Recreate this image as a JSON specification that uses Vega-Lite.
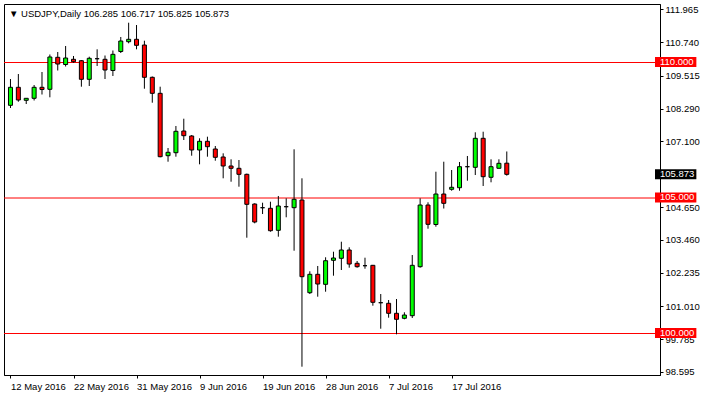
{
  "$schema": "https://vega.github.io/schema/vega-lite/v6.json",
  "width": 656,
  "height": 371,
  "autosize": "none",
  "padding": {"left": 4, "top": 4, "right": 44, "bottom": 23},
  "background": "white",
  "config": {"view": {"stroke": "black", "strokeWidth": 1}, "font": "Liberation Sans", "axis": {"labelOverlap": false, "labelBound": false, "labelFlush": false, "labelSeparation": 0}},
  "title": {"text": "▼  USDJPY,Daily   106.285 106.717 105.825 105.873", "anchor": "start", "frame": "group", "orient": "top", "offset": -14, "dx": 5, "font": "Liberation Sans", "fontSize": 9.5, "fontWeight": "normal", "color": "black"},
  "datasets": {
    "candles": [
      {"i":0,"date":"2016-05-12","open":108.42,"high":109.39,"low":108.32,"close":109.085},
      {"i":1,"date":"2016-05-13","open":109.085,"high":109.575,"low":108.553,"close":108.616},
      {"i":2,"date":"2016-05-15","open":108.605,"high":108.69,"low":108.468,"close":108.679},
      {"i":3,"date":"2016-05-16","open":108.679,"high":109.169,"low":108.598,"close":109.085},
      {"i":4,"date":"2016-05-17","open":109.085,"high":109.649,"low":108.819,"close":109.003},
      {"i":5,"date":"2016-05-18","open":109.011,"high":110.295,"low":108.716,"close":110.203},
      {"i":6,"date":"2016-05-19","open":110.192,"high":110.387,"low":109.705,"close":109.944},
      {"i":7,"date":"2016-05-20","open":109.926,"high":110.609,"low":109.852,"close":110.166},
      {"i":8,"date":"2016-05-22","open":110.118,"high":110.24,"low":109.992,"close":110.029},
      {"i":9,"date":"2016-05-23","open":110.066,"high":110.092,"low":109.107,"close":109.38},
      {"i":10,"date":"2016-05-24","open":109.38,"high":110.214,"low":109.133,"close":110.155},
      {"i":11,"date":"2016-05-25","open":110.14,"high":110.487,"low":109.871,"close":110.14},
      {"i":12,"date":"2016-05-26","open":110.118,"high":110.258,"low":109.391,"close":109.723},
      {"i":13,"date":"2016-05-27","open":109.705,"high":110.443,"low":109.502,"close":110.302},
      {"i":14,"date":"2016-05-29","open":110.406,"high":110.941,"low":110.35,"close":110.793},
      {"i":15,"date":"2016-05-30","open":110.767,"high":111.468,"low":110.708,"close":110.856},
      {"i":16,"date":"2016-05-31","open":110.856,"high":111.383,"low":110.487,"close":110.634},
      {"i":17,"date":"2016-06-01","open":110.645,"high":110.804,"low":109.033,"close":109.454},
      {"i":18,"date":"2016-06-02","open":109.454,"high":109.483,"low":108.516,"close":108.863},
      {"i":19,"date":"2016-06-03","open":108.863,"high":109.107,"low":106.502,"close":106.524},
      {"i":20,"date":"2016-06-05","open":106.561,"high":106.845,"low":106.339,"close":106.686},
      {"i":21,"date":"2016-06-06","open":106.671,"high":107.657,"low":106.524,"close":107.461},
      {"i":22,"date":"2016-06-07","open":107.472,"high":107.926,"low":107.14,"close":107.299},
      {"i":23,"date":"2016-06-08","open":107.288,"high":107.324,"low":106.561,"close":106.771},
      {"i":24,"date":"2016-06-09","open":106.771,"high":107.203,"low":106.243,"close":107.092},
      {"i":25,"date":"2016-06-10","open":107.092,"high":107.262,"low":106.524,"close":106.893},
      {"i":26,"date":"2016-06-12","open":106.808,"high":106.919,"low":106.376,"close":106.502},
      {"i":27,"date":"2016-06-13","open":106.513,"high":106.649,"low":105.727,"close":106.181},
      {"i":28,"date":"2016-06-14","open":106.181,"high":106.428,"low":105.601,"close":106.096},
      {"i":29,"date":"2016-06-15","open":106.096,"high":106.402,"low":105.417,"close":105.874},
      {"i":30,"date":"2016-06-16","open":105.874,"high":105.9,"low":103.535,"close":104.767},
      {"i":31,"date":"2016-06-17","open":104.778,"high":104.804,"low":104.066,"close":104.114},
      {"i":32,"date":"2016-06-19","open":104.642,"high":104.826,"low":104.409,"close":104.642},
      {"i":33,"date":"2016-06-20","open":104.62,"high":104.863,"low":103.756,"close":103.793},
      {"i":34,"date":"2016-06-21","open":103.808,"high":105.074,"low":103.572,"close":104.705},
      {"i":35,"date":"2016-06-22","open":104.679,"high":104.989,"low":104.288,"close":104.679},
      {"i":36,"date":"2016-06-23","open":104.642,"high":106.797,"low":103.055,"close":104.952},
      {"i":37,"date":"2016-06-24","open":104.926,"high":105.727,"low":98.775,"close":102.096},
      {"i":38,"date":"2016-06-26","open":101.505,"high":102.295,"low":101.457,"close":102.184},
      {"i":39,"date":"2016-06-27","open":102.184,"high":102.491,"low":101.358,"close":101.826},
      {"i":40,"date":"2016-06-28","open":101.815,"high":102.812,"low":101.542,"close":102.686},
      {"i":41,"date":"2016-06-29","open":102.701,"high":103.018,"low":102.133,"close":102.786},
      {"i":42,"date":"2016-06-30","open":102.775,"high":103.387,"low":102.343,"close":103.081},
      {"i":43,"date":"2016-07-01","open":103.081,"high":103.181,"low":102.428,"close":102.564},
      {"i":44,"date":"2016-07-03","open":102.59,"high":102.675,"low":102.428,"close":102.465},
      {"i":45,"date":"2016-07-04","open":102.502,"high":102.797,"low":102.391,"close":102.502},
      {"i":46,"date":"2016-07-05","open":102.516,"high":102.53,"low":101.026,"close":101.151},
      {"i":47,"date":"2016-07-06","open":101.136,"high":101.457,"low":100.177,"close":101.136},
      {"i":48,"date":"2016-07-07","open":101.114,"high":101.236,"low":100.583,"close":100.745},
      {"i":49,"date":"2016-07-08","open":100.745,"high":101.273,"low":99.97,"close":100.524},
      {"i":50,"date":"2016-07-10","open":100.561,"high":100.782,"low":100.524,"close":100.682},
      {"i":51,"date":"2016-07-11","open":100.657,"high":102.896,"low":100.572,"close":102.516},
      {"i":52,"date":"2016-07-12","open":102.465,"high":104.989,"low":102.428,"close":104.741},
      {"i":53,"date":"2016-07-13","open":104.741,"high":104.841,"low":103.867,"close":104.029},
      {"i":54,"date":"2016-07-14","open":104.022,"high":105.97,"low":103.941,"close":105.147},
      {"i":55,"date":"2016-07-15","open":105.147,"high":106.339,"low":104.612,"close":104.804},
      {"i":56,"date":"2016-07-17","open":105.321,"high":106.033,"low":105.269,"close":105.395},
      {"i":57,"date":"2016-07-18","open":105.38,"high":106.328,"low":105.269,"close":106.155},
      {"i":58,"date":"2016-07-19","open":106.155,"high":106.55,"low":105.638,"close":106.155},
      {"i":59,"date":"2016-07-20","open":106.133,"high":107.424,"low":105.848,"close":107.203},
      {"i":60,"date":"2016-07-21","open":107.203,"high":107.446,"low":105.443,"close":105.786},
      {"i":61,"date":"2016-07-22","open":105.764,"high":106.428,"low":105.579,"close":106.155},
      {"i":62,"date":"2016-07-24","open":106.096,"high":106.428,"low":106.096,"close":106.28},
      {"i":63,"date":"2016-07-25","open":106.285,"high":106.717,"low":105.825,"close":105.873}
    ],
    "levels": [
      {"level": 110, "label": "110.000"},
      {"level": 105, "label": "105.000"},
      {"level": 100, "label": "100.000"}
    ],
    "last": [
      {"price": 105.873, "label": "105.873"}
    ]
  },
  "layer": [
    {
      "data": {"name": "levels"},
      "mark": {"type": "rule", "color": "#ff0000", "strokeWidth": 1},
      "encoding": {
        "y": {"field": "level", "type": "quantitative",
          "scale": {"domain": [98.4687, 112.1587], "nice": false, "zero": false},
          "axis": {"orient": "right", "title": null, "values": [111.965, 110.74, 109.515, 108.29, 107.1, 104.65, 103.46, 102.235, 101.01, 99.785, 98.595], "tickCount": 30, "format": ".3f", "grid": false, "tickSize": 3, "tickColor": "black", "domainColor": "black", "labelPadding": 2, "labelFont": "Liberation Sans", "labelFontSize": 9.5, "labelColor": "black", "labelOverlap": false, "labelBound": false, "labelFlush": false}}
      }
    },
    {
      "data": {"name": "candles"},
      "mark": {"type": "rule", "color": "black", "strokeWidth": 1},
      "encoding": {
        "x": {"field": "i", "type": "quantitative",
          "scale": {"domain": [-0.1875, 81.8125], "nice": false, "zero": false},
          "axis": {"title": null, "values": [0, 8, 16, 24, 32, 40, 48, 56], "tickCount": 30, "labelExpr": "['12 May 2016','22 May 2016','31 May 2016','9 Jun 2016','19 Jun 2016','28 Jun 2016','7 Jul 2016','17 Jul 2016'][round(datum.value/8)]", "grid": false, "tickSize": 3, "tickColor": "black", "domainColor": "black", "labelAlign": "left", "labelPadding": 3, "labelFont": "Liberation Sans", "labelFontSize": 9.5, "labelColor": "black", "labelOverlap": false, "labelBound": false, "labelFlush": false}},
        "y": {"field": "low", "type": "quantitative", "title": null},
        "y2": {"field": "high"}
      }
    },
    {
      "data": {"name": "candles"},
      "mark": {"type": "bar", "orient": "vertical", "size": 4, "stroke": "black", "strokeWidth": 1},
      "encoding": {
        "x": {"field": "i", "type": "quantitative", "title": null},
        "y": {"field": "open", "type": "quantitative", "title": null},
        "y2": {"field": "close"},
        "fill": {"condition": {"test": "datum.close > datum.open", "value": "#00ff00"}, "value": "#ff0000"}
      }
    },
    {
      "data": {"name": "levels"},
      "mark": {"type": "rect", "color": "#ff0000", "yOffset": -5.5, "y2Offset": 4.5},
      "encoding": {
        "x": {"datum": 81.8125, "type": "quantitative", "title": null},
        "x2": {"datum": 87.0625},
        "y": {"field": "level", "type": "quantitative", "title": null},
        "y2": {"field": "level"}
      }
    },
    {
      "data": {"name": "levels"},
      "mark": {"type": "text", "color": "white", "align": "left", "baseline": "middle", "dx": 5, "dy": -1, "font": "Liberation Sans", "fontSize": 9.5},
      "encoding": {
        "x": {"datum": 81.8125, "type": "quantitative", "title": null},
        "y": {"field": "level", "type": "quantitative", "title": null},
        "text": {"field": "label"}
      }
    },
    {
      "data": {"name": "last"},
      "mark": {"type": "rect", "color": "black", "yOffset": -5, "y2Offset": 5},
      "encoding": {
        "x": {"datum": 81.8125, "type": "quantitative", "title": null},
        "x2": {"datum": 87.0625},
        "y": {"field": "price", "type": "quantitative", "title": null},
        "y2": {"field": "price"}
      }
    },
    {
      "data": {"name": "last"},
      "mark": {"type": "text", "color": "white", "align": "left", "baseline": "middle", "dx": 5, "font": "Liberation Sans", "fontSize": 9.5},
      "encoding": {
        "x": {"datum": 81.8125, "type": "quantitative", "title": null},
        "y": {"field": "price", "type": "quantitative", "title": null},
        "text": {"field": "label"}
      }
    }
  ]
}
